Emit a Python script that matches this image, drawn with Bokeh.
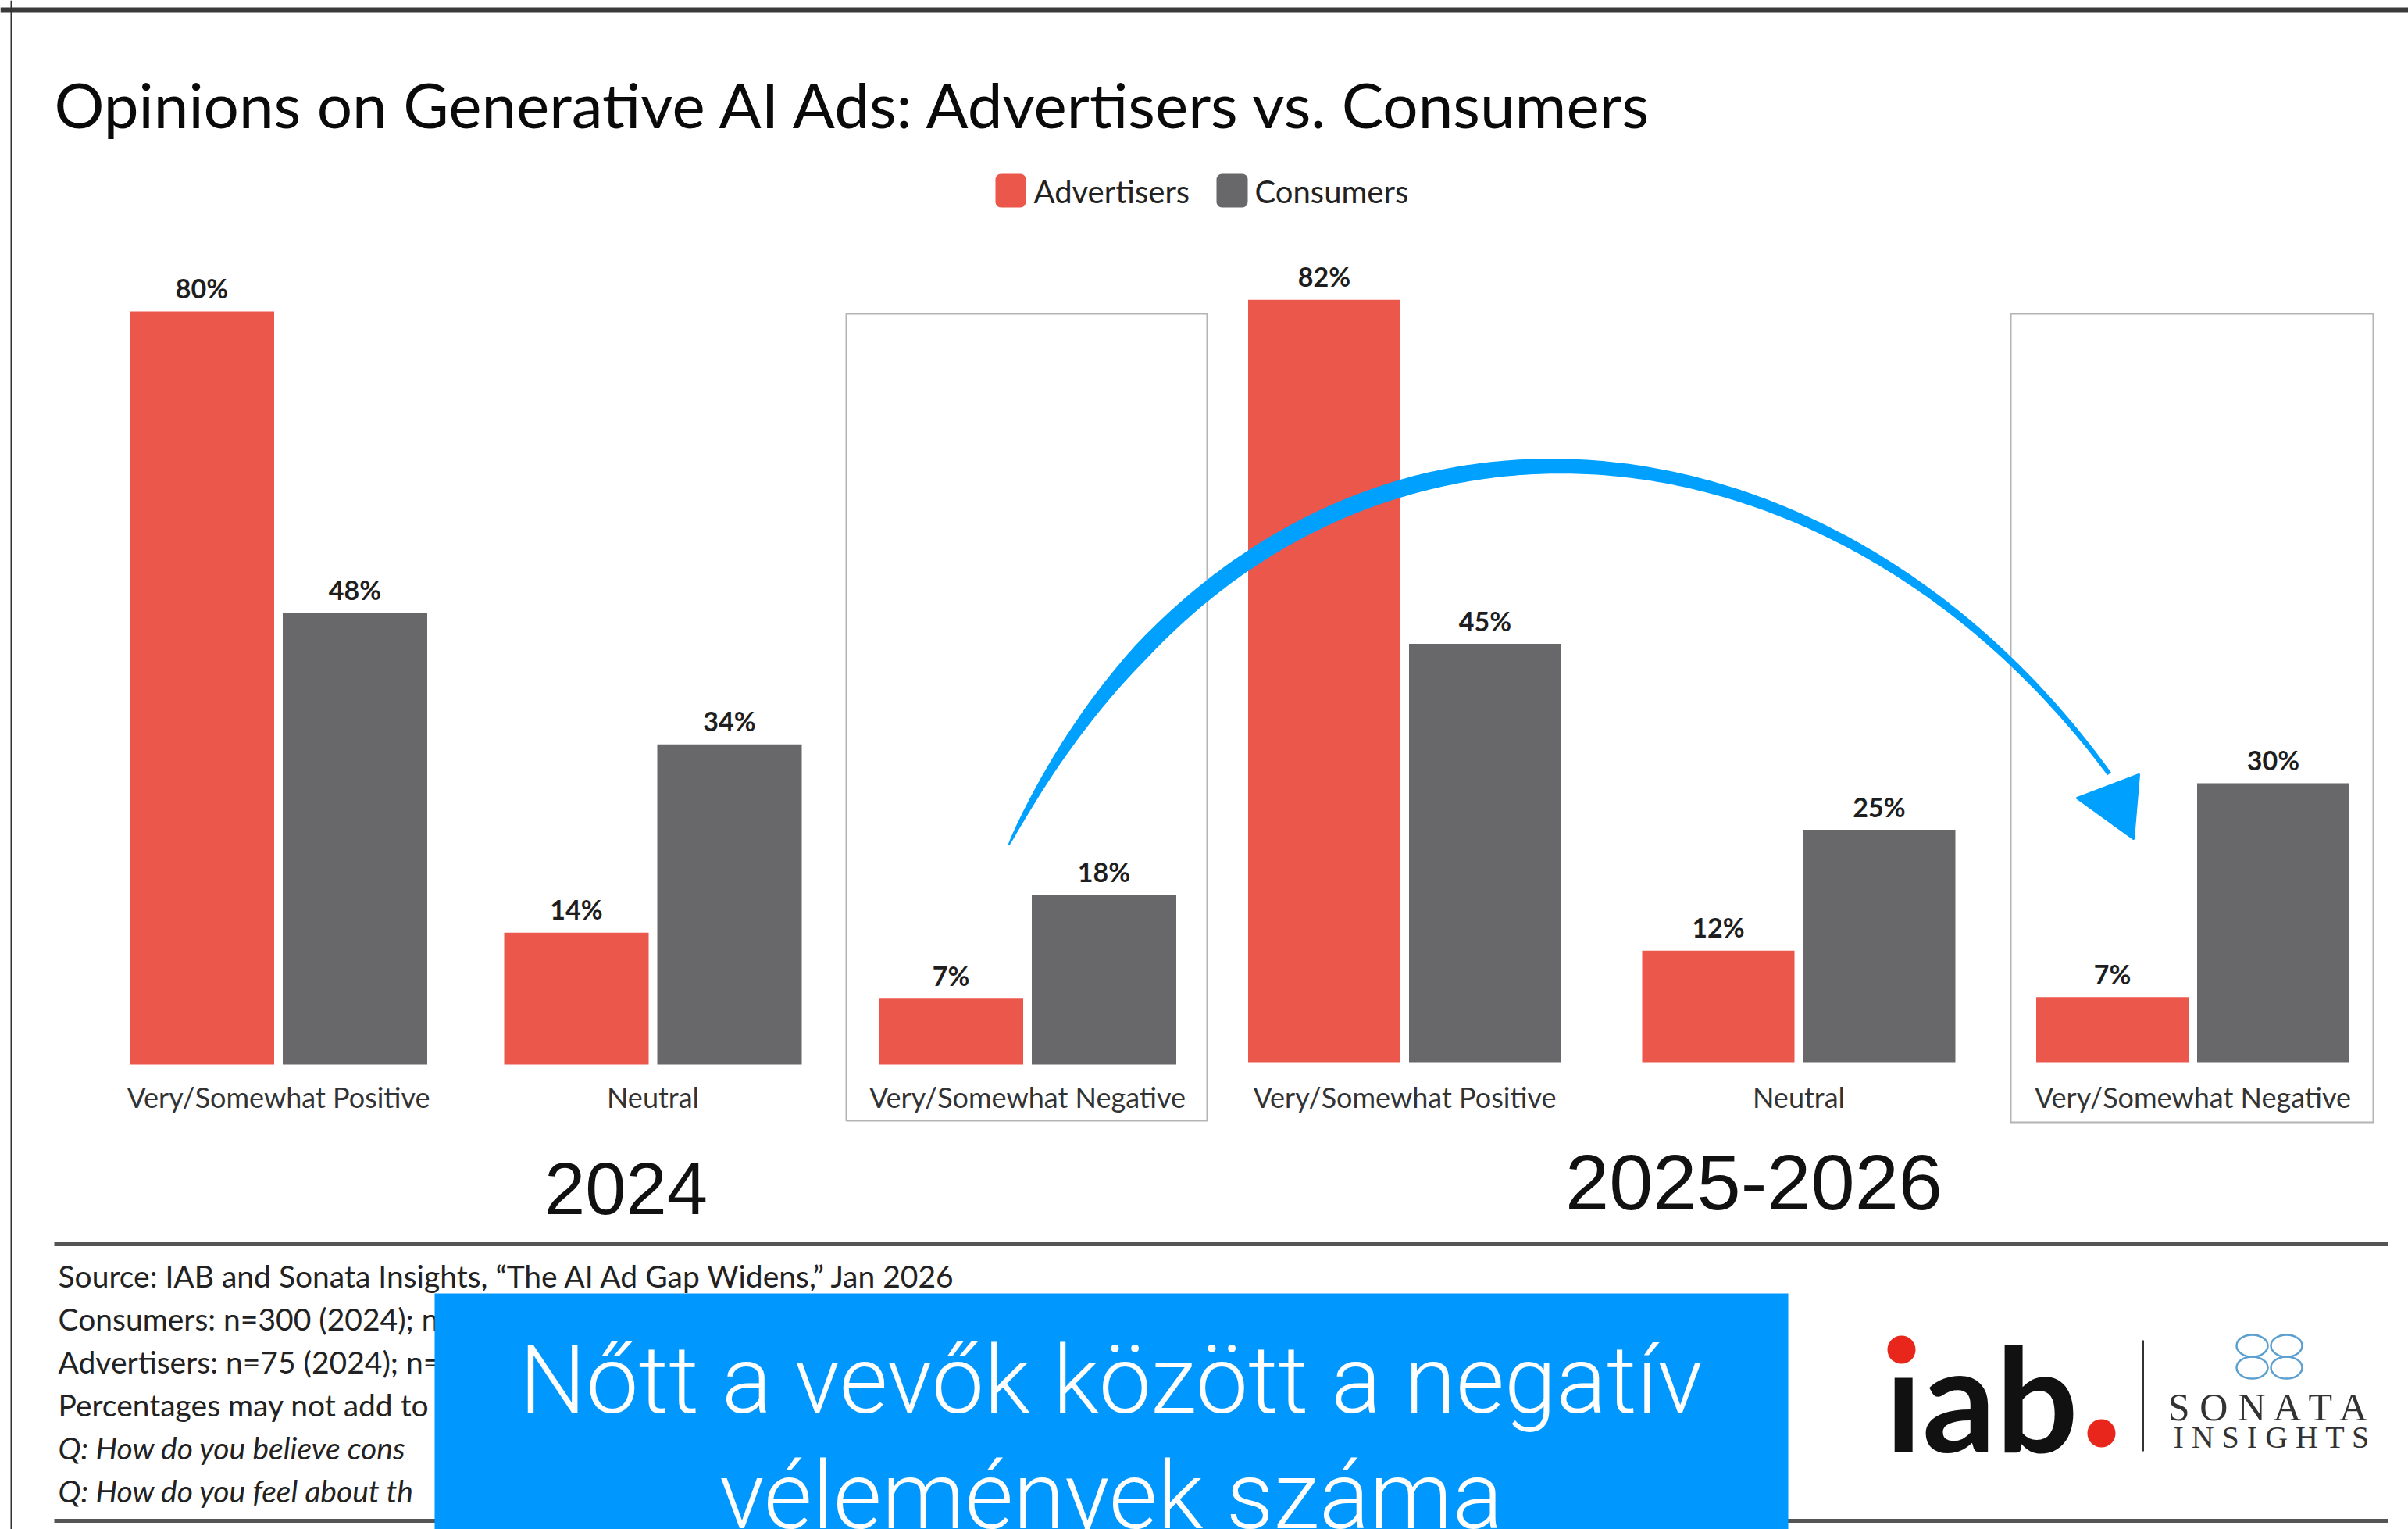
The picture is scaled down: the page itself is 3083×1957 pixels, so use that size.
import numpy as np
from bokeh.plotting import figure
from bokeh.models import Range1d, ColumnDataSource
from bokeh.core.properties import value
from bokeh.embed import file_html
from bokeh.resources import INLINE

# ---------------- data ----------------
categories = ["Very/Somewhat Positive", "Neutral", "Very/Somewhat Negative"]
series = ["Advertisers", "Consumers"]
advertisers_2024 = [80, 14, 7]
consumers_2024 = [48, 34, 18]
advertisers_2025 = [82, 12, 7]
consumers_2025 = [45, 25, 30]
periods = ["2024", "2025-2026"]
title_text = "Opinions on Generative AI Ads: Advertisers vs. Consumers"
source_lines = [
    "Source: IAB and Sonata Insights, \u201cThe AI Ad Gap Widens,\u201d Jan 2026",
    "Consumers: n=300 (2024); n",
    "Advertisers: n=75 (2024); n=",
    "Percentages may not add to",
    "Q: How do you believe cons",
    "Q: How do you feel about th",
]
callout_lines = ["N\u0151tt a vev\u0151k k\u00f6z\u00f6tt a negat\u00edv", "v\u00e9lem\u00e9nyek sz\u00e1ma"]

# ---------------- style ----------------
RED = "#EC574B"
GRAY = "#68686A"
BLUE = "#0097FF"
ARROW = "#00A0FF"
FONT = "Lato"

W, H = 3083, 1957
p = figure(width=W, height=H, output_backend="svg", toolbar_location=None,
           x_range=Range1d(0, W), y_range=Range1d(H, 0),
           x_axis_location=None, y_axis_location=None, min_border=0,
           outline_line_color=None, background_fill_color="white",
           border_fill_color="white")
p.grid.visible = False

panels = [
    dict(adv=advertisers_2024, cons=consumers_2024, x0=356, step=479.5, off=98, bw=185,
         base=1362, ppu=12.05, name="p24", box=(-232, 230, 401, 1434),
         year=periods[0], yx=801, yy=1521, ysize="94px"),
    dict(adv=advertisers_2025, cons=consumers_2025, x0=1798, step=504.5, off=103, bw=195,
         base=1359, ppu=11.9, name="p25", box=(-233, 231, 401, 1436),
         year=periods[1], yx=2245, yy=1513, ysize="101px"),
]

p.extra_y_ranges = {
    pn["name"]: Range1d((pn["base"] - H) / pn["ppu"], pn["base"] / pn["ppu"])
    for pn in panels
}

# frame lines
p.segment(x0=[0], y0=[12], x1=[W], y1=[12], line_color="#3a3a3a", line_width=6)
p.segment(x0=[14], y0=[0], x1=[14], y1=[H], line_color="#333333", line_width=2)

for pn in panels:
    centers = [pn["x0"] + i * pn["step"] for i in range(len(categories))]
    bl, br, bt, bb = pn["box"]
    p.quad(left=[centers[2] + bl], right=[centers[2] + br], top=[bt], bottom=[bb],
           fill_color=None, line_color="#b4b4b4", line_width=2)
    src = ColumnDataSource(dict(
        xa=[c - pn["off"] for c in centers],
        xc=[c + pn["off"] for c in centers],
        adv=pn["adv"], cons=pn["cons"],
        adv_lbl=[f"{v}%" for v in pn["adv"]],
        cons_lbl=[f"{v}%" for v in pn["cons"]],
    ))
    p.vbar(x="xa", top="adv", bottom=0, width=pn["bw"], fill_color=RED, line_color=None,
           y_range_name=pn["name"], source=src)
    p.vbar(x="xc", top="cons", bottom=0, width=pn["bw"], fill_color=GRAY, line_color=None,
           y_range_name=pn["name"], source=src)
    for xcol, ycol, lcol in (("xa", "adv", "adv_lbl"), ("xc", "cons", "cons_lbl")):
        p.text(x=xcol, y=ycol, text=lcol, source=src, y_range_name=pn["name"],
               text_align="center", text_baseline="middle", y_offset=-30,
               text_font=value(FONT), text_font_size="34px", text_color="#1e1e1e",
               text_font_style="bold")
    p.text(x=centers, y=[1403] * 3, text=categories, text_align="center",
           text_baseline="middle", text_font=value(FONT), text_font_size="36px",
           text_color="#333333")
    p.text(x=[pn["yx"]], y=[pn["yy"]], text=[pn["year"]], text_align="center",
           text_baseline="middle", text_font=value("Liberation Sans"),
           text_font_size=pn["ysize"], text_color="#111111")

# title
p.text(x=[69], y=[132], text=[title_text], text_baseline="middle",
       text_font=value(FONT), text_font_size="80px", text_color="#0a0a0a")

# legend
leg_sq = dict(left=[1274, 1557], right=[1313, 1597], top=[222, 222], bottom=[265, 265],
              color=[RED, GRAY])
p.quad(left="left", right="right", top="top", bottom="bottom", fill_color="color",
       line_color=None, border_radius=7, source=ColumnDataSource(leg_sq))
p.text(x=[1323, 1606], y=[244, 244], text=series, text_baseline="middle",
       text_font=value(FONT), text_font_size="40px", text_color="#222222")

# rules
p.segment(x0=[69, 69], y0=[1592, 1946], x1=[3057, 3057], y1=[1592, 1946],
          line_color="#555555", line_width=5)

# source notes
src_y = [1632 + 55 * i for i in range(len(source_lines))]
for s, yy in zip(source_lines, src_y):
    p.text(x=[74], y=[yy], text=[s], text_baseline="middle", text_font=value(FONT),
           text_font_size="39px", text_color="#222222",
           text_font_style="italic" if s.startswith("Q:") else "normal")

# logos: iab.
p.text(x=[2413], y=[1786], text=["\u0131ab"], text_baseline="middle",
       text_font=value(FONT), text_font_style="bold", text_font_size="186px",
       text_color="#111111")
p.circle(x=[2434, 2690], y=[1727, 1834], radius=18, fill_color="#E8261C", line_color=None)
p.segment(x0=[2743], y0=[1715], x1=[2743], y1=[1857], line_color="#333333", line_width=3)
# sonata icon
p.ellipse(x=[2883, 2927, 2883, 2927], y=[1722, 1722, 1750, 1750], width=[40, 40, 40, 40],
          height=[28, 28, 28, 28], fill_color=None, line_color="#5b9fd0", line_width=2.5)
p.text(x=[2908], y=[1800], text=["S O N A T A"], text_align="center",
       text_baseline="middle", text_font=value("Liberation Serif"),
       text_font_size="50px", text_color="#333333")
p.text(x=[2908], y=[1839], text=["I N S I G H T S"], text_align="center",
       text_baseline="middle", text_font=value("Liberation Serif"),
       text_font_size="40px", text_color="#333333")

# curved arrow
t = np.linspace(0, 1, 240)
P0 = np.array([1291, 1081]); P1 = np.array([1616, 430])
P2 = np.array([2319, 470]); P3 = np.array([2700, 990])
B = (((1 - t) ** 3)[:, None] * P0 + (3 * (1 - t) ** 2 * t)[:, None] * P1
     + (3 * (1 - t) * t ** 2)[:, None] * P2 + (t ** 3)[:, None] * P3)
dB = ((3 * (1 - t) ** 2)[:, None] * (P1 - P0) + (6 * (1 - t) * t)[:, None] * (P2 - P1)
      + (3 * t ** 2)[:, None] * (P3 - P2))
nrm = np.stack([-dB[:, 1], dB[:, 0]], axis=1)
nrm /= np.linalg.norm(nrm, axis=1)[:, None]
hw = 1.0 + 10.0 * np.clip(t / 0.15, 0, 1) ** 0.7 * (1 - 0.8 * np.clip((t - 0.4) / 0.6, 0, 1))
L = B + nrm * hw[:, None]
R = B - nrm * hw[:, None]
p.patch(x=np.concatenate([L[:, 0], R[::-1, 0]]), y=np.concatenate([L[:, 1], R[::-1, 1]]),
        fill_color=ARROW, line_color=None)
p.patch(x=[2659, 2738, 2731], y=[1021, 991, 1073], fill_color=ARROW, line_color=ARROW,
        line_width=3, line_join="round")

# callout box
p.quad(left=[556], right=[2289], top=[1655], bottom=[2000], fill_color=BLUE, line_color=None)
p.text(x=[1422, 1422], y=[1766, 1914], text=callout_lines, text_align="center",
       text_baseline="middle", text_font=value("Roboto Light, Roboto"),
       text_font_size="120px", text_color="white")

open("out.html", "w").write(file_html(p, INLINE))
